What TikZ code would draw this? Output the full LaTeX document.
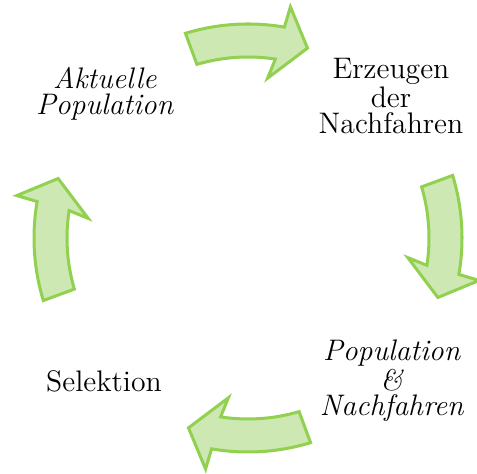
\documentclass[tikz,border=0pt]{standalone}
\usepackage{tikz}
\usetikzlibrary{calc}
\definecolor{arrowline}{HTML}{92D050}
\definecolor{arrowfill}{HTML}{CDE8B2}
\tikzstyle{step label}=[align=center,font=\fontsize{12.3}{10.6}\selectfont]
\tikzstyle{cyclearrow}=[draw=arrowline,fill=arrowfill,line width=1.25pt,line join=miter]

\begin{document}
\begin{tikzpicture}[x=0.414pt,y=0.414pt]
\useasboundingbox (-248,-236) rectangle (229,238);
\node[step label] (aktuell) at (-143,144) {\textit{Aktuelle}\\\textit{Population}};
\node[step label] (erzeugen) at (143,142) {Erzeugen\\der\\Nachfahren};
\node[step label] (popnach) at (144,-143) {\textit{Population}\\\textit{\&}\\\textit{Nachfahren}};
\node[step label] (selektion) at (-144,-143) {Selektion};

\foreach \a in {0,-90,-180,-270}
  \draw[cyclearrow,rotate=\a] (107:214) arc[start angle=107,end angle=80.2,radius=214]
    -- (79.6:235) -- (72.6:199) -- (83:161) -- (81.3:181)
    arc[start angle=81.3,end angle=106.4,radius=181] -- cycle;
\end{tikzpicture}
\end{document}
